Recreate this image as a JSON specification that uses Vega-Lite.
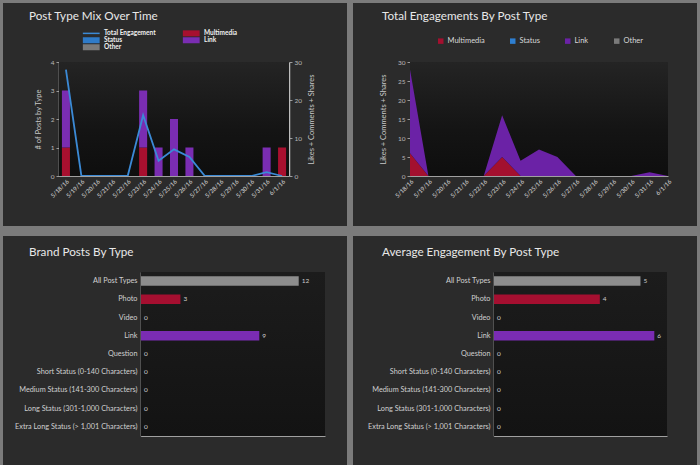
{
  "$schema": "https://vega.github.io/schema/vega-lite/v6.json",
  "background": "#2b2b2b",
  "padding": 0,
  "datasets": {
    "posts": [
      {"date": "5/18/16", "type": "Multimedia", "count": 1},
      {"date": "5/18/16", "type": "Link", "count": 2},
      {"date": "5/23/16", "type": "Multimedia", "count": 1},
      {"date": "5/23/16", "type": "Link", "count": 2},
      {"date": "5/24/16", "type": "Link", "count": 1},
      {"date": "5/25/16", "type": "Link", "count": 2},
      {"date": "5/26/16", "type": "Link", "count": 1},
      {"date": "5/31/16", "type": "Link", "count": 1},
      {"date": "6/1/16", "type": "Multimedia", "count": 1}
    ],
    "eng": [
      {"date": "5/18/16", "type": "Multimedia", "value": 6},
      {"date": "5/18/16", "type": "Link", "value": 22},
      {"date": "5/19/16", "type": "Multimedia", "value": 0},
      {"date": "5/19/16", "type": "Link", "value": 0},
      {"date": "5/20/16", "type": "Multimedia", "value": 0},
      {"date": "5/20/16", "type": "Link", "value": 0},
      {"date": "5/21/16", "type": "Multimedia", "value": 0},
      {"date": "5/21/16", "type": "Link", "value": 0},
      {"date": "5/22/16", "type": "Multimedia", "value": 0},
      {"date": "5/22/16", "type": "Link", "value": 0},
      {"date": "5/23/16", "type": "Multimedia", "value": 5},
      {"date": "5/23/16", "type": "Link", "value": 11},
      {"date": "5/24/16", "type": "Multimedia", "value": 0},
      {"date": "5/24/16", "type": "Link", "value": 4},
      {"date": "5/25/16", "type": "Multimedia", "value": 0},
      {"date": "5/25/16", "type": "Link", "value": 7},
      {"date": "5/26/16", "type": "Multimedia", "value": 0},
      {"date": "5/26/16", "type": "Link", "value": 5},
      {"date": "5/27/16", "type": "Multimedia", "value": 0},
      {"date": "5/27/16", "type": "Link", "value": 0},
      {"date": "5/28/16", "type": "Multimedia", "value": 0},
      {"date": "5/28/16", "type": "Link", "value": 0},
      {"date": "5/29/16", "type": "Multimedia", "value": 0},
      {"date": "5/29/16", "type": "Link", "value": 0},
      {"date": "5/30/16", "type": "Multimedia", "value": 0},
      {"date": "5/30/16", "type": "Link", "value": 0},
      {"date": "5/31/16", "type": "Multimedia", "value": 0},
      {"date": "5/31/16", "type": "Link", "value": 1},
      {"date": "6/1/16", "type": "Multimedia", "value": 0},
      {"date": "6/1/16", "type": "Link", "value": 0}
    ],
    "brand": [
      {"type": "All Post Types", "posts": 12},
      {"type": "Photo", "posts": 3},
      {"type": "Video", "posts": 0},
      {"type": "Link", "posts": 9},
      {"type": "Question", "posts": 0},
      {"type": "Short Status (0-140 Characters)", "posts": 0},
      {"type": "Medium Status (141-300 Characters)", "posts": 0},
      {"type": "Long Status (301-1,000 Characters)", "posts": 0},
      {"type": "Extra Long Status (> 1,001 Characters)", "posts": 0}
    ],
    "avg": [
      {"type": "All Post Types", "avg": 5.08},
      {"type": "Photo", "avg": 3.67},
      {"type": "Video", "avg": 0},
      {"type": "Link", "avg": 5.56},
      {"type": "Question", "avg": 0},
      {"type": "Short Status (0-140 Characters)", "avg": 0},
      {"type": "Medium Status (141-300 Characters)", "avg": 0},
      {"type": "Long Status (301-1,000 Characters)", "avg": 0},
      {"type": "Extra Long Status (> 1,001 Characters)", "avg": 0}
    ]
  },
  "spacing": 0,
  "resolve": {"scale": {"color": "independent"}, "legend": {"color": "independent"}},
  "hconcat": [
    {"width": 3, "height": 465, "view": {"fill": "#7b7b7b"}, "data": {"values": []}, "mark": "rect"},
    {
      "spacing": 0,
      "resolve": {"scale": {"color": "independent"}, "legend": {"color": "independent"}},
      "vconcat": [
        {"width": 344, "height": 3, "view": {"fill": "#7b7b7b"}, "data": {"values": []}, "mark": "rect"},
        {"width": 344, "height": 8, "data": {"values": []}, "mark": "rect"},
        {
          "spacing": 0,
          "bounds": "flush",
          "hconcat": [
            {"width": 56, "height": 164, "data": {"values": []}, "mark": "rect"},
            {
              "width": 230,
              "height": 114,
              "view": {"fill": "#161616"},
              "title": {"text": "Post Type Mix Over Time", "dx": -30, "offset": 36},
              "layer": [
                {
                  "data": {"values": [{}]},
                  "mark": {"type": "rect", "fill": {"gradient": "linear", "x1": 0, "y1": 0, "x2": 0, "y2": 1, "stops": [{"offset": 0, "color": "#242424"}, {"offset": 0.6, "color": "#141414"}, {"offset": 1, "color": "#0e0e0e"}]}}
                },
                {
                  "data": {"name": "posts"},
                  "mark": {"type": "bar"},
                  "encoding": {
                    "x": {"field": "date", "type": "ordinal", "scale": {"paddingInner": 0.48, "paddingOuter": 0.19},
                      "axis": {"title": null, "labelAngle": -45, "labelFontSize": 6, "labelFontWeight": "bold", "ticks": false, "labelPadding": 2, "domainColor": "#a0a0a0", "zindex": 1}},
                    "y": {"field": "count", "type": "quantitative", "stack": "zero", "scale": {"domain": [0, 4]},
                      "axis": {"title": "# of Posts by Type", "values": [0, 1, 2, 3, 4], "tickSize": 3, "labelFontSize": 6.5, "titleFontSize": 7.5, "titlePadding": 8, "domainColor": "#bdbdbd", "domainWidth": 1.5}},
                    "color": {"field": "type", "type": "nominal",
                      "scale": {"domain": ["Total Engagement", "Status", "Other", "Multimedia", "Link"], "range": ["#3b8ad6", "#2f7bc8", "#7a7a7a", "#a8102f", "#7a2db2"]},
                      "legend": {"orient": "none", "legendX": 85, "legendY": -32, "columns": 2, "columnPadding": 26, "rowPadding": 0, "symbolSize": 36,
                        "symbolType": "M-2.8,-1L2.8,-1L2.8,1L-2.8,1Z", "labelOffset": 9.5, "labelFontSize": 6.5, "labelFontWeight": "bold", "labelColor": "#f0f0f0",
                        "title": null, "padding": 0, "symbolStrokeWidth": 0,
                        "encode": {"symbols": {"update": {"shape": {"signal": "datum.value === 'Total Engagement' ? 'M-2.8,-0.25L2.8,-0.25L2.8,0.25L-2.8,0.25Z' : 'M-2.8,-1L2.8,-1L2.8,1L-2.8,1Z'"}}}}}},
                    "order": {"field": "type", "sort": "descending"}
                  }
                },
                {
                  "data": {"name": "eng"},
                  "mark": {"type": "line", "strokeWidth": 1.8},
                  "encoding": {
                    "x": {"field": "date", "type": "ordinal"},
                    "y": {"aggregate": "sum", "field": "value", "type": "quantitative", "scale": {"domain": [0, 30]},
                      "axis": {"orient": "right", "title": "Likes + Comments + Shares", "values": [0, 10, 20, 30], "tickSize": 3, "labelFontSize": 6.5, "titleFontSize": 7.5, "titlePadding": 14, "titleAngle": 270, "domainColor": "#bdbdbd", "domainWidth": 1.5}},
                    "color": {"datum": "Total Engagement"}
                  }
                }
              ],
              "resolve": {"scale": {"y": "independent"}}
            },
            {"width": 58, "height": 164, "data": {"values": []}, "mark": "rect"}
          ]
        },
        {"width": 344, "height": 10, "view": {"fill": "#7b7b7b"}, "data": {"values": []}, "mark": "rect"},
        {"width": 344, "height": 10, "data": {"values": []}, "mark": "rect"},
        {
          "spacing": 0,
          "bounds": "flush",
          "hconcat": [
            {"width": 138, "height": 194, "data": {"values": []}, "mark": "rect"},
            {
              "width": 184,
              "height": 164,
              "view": {"fill": "#161616"},
              "title": {"text": "Brand Posts By Type", "dx": -112, "offset": 13.5},
              "layer": [
                {
                  "data": {"values": [{}]},
                  "mark": {"type": "rect", "fill": {"gradient": "linear", "x1": 0, "y1": 0, "x2": 0, "y2": 1, "stops": [{"offset": 0, "color": "#1c1c1c"}, {"offset": 1, "color": "#131313"}]}}
                },
                {
                  "data": {"name": "brand"},
                  "mark": {"type": "bar"},
                  "encoding": {
                    "y": {"field": "type", "type": "nominal", "sort": ["All Post Types", "Photo", "Video", "Link", "Question", "Short Status (0-140 Characters)", "Medium Status (141-300 Characters)", "Long Status (301-1,000 Characters)", "Extra Long Status (> 1,001 Characters)"],
                      "scale": {"paddingInner": 0.485, "paddingOuter": 0.236},
                      "axis": {"title": null, "ticks": false, "labelPadding": 4, "labelFontSize": 7.3, "labelColor": "#d0d0d0", "domainColor": "#c0c0c0", "domainWidth": 1.5}},
                    "x": {"field": "posts", "type": "quantitative", "scale": {"domain": [0, 14]},
                      "axis": {"title": null, "labels": false, "ticks": false, "domainColor": "#a0a0a0"}},
                    "color": {"field": "type", "type": "nominal", "scale": {"domain": ["All Post Types", "Photo", "Video", "Link", "Question", "Short Status (0-140 Characters)", "Medium Status (141-300 Characters)", "Long Status (301-1,000 Characters)", "Extra Long Status (> 1,001 Characters)"], "range": ["#8d8d8d", "#a50f30", "#8d8d8d", "#7a2cb3", "#8d8d8d", "#8d8d8d", "#8d8d8d", "#8d8d8d", "#8d8d8d"]}, "legend": null}
                  }
                },
                {
                  "data": {"name": "brand"},
                  "mark": {"type": "text", "align": "left", "dx": 3, "fontSize": 6.5, "color": "#cccccc"},
                  "encoding": {
                    "y": {"field": "type", "type": "nominal", "sort": ["All Post Types", "Photo", "Video", "Link", "Question", "Short Status (0-140 Characters)", "Medium Status (141-300 Characters)", "Long Status (301-1,000 Characters)", "Extra Long Status (> 1,001 Characters)"]},
                    "x": {"field": "posts", "type": "quantitative"},
                    "text": {"field": "posts", "type": "quantitative", "format": ".0f"}
                  }
                }
              ]
            },
            {"width": 22, "height": 194, "data": {"values": []}, "mark": "rect"}
          ]
        }
      ]
    },
    {"width": 6, "height": 465, "view": {"fill": "#7b7b7b"}, "data": {"values": []}, "mark": "rect"},
    {
      "spacing": 0,
      "resolve": {"scale": {"color": "independent"}, "legend": {"color": "independent"}},
      "vconcat": [
        {"width": 344, "height": 3, "view": {"fill": "#7b7b7b"}, "data": {"values": []}, "mark": "rect"},
        {"width": 344, "height": 8, "data": {"values": []}, "mark": "rect"},
        {
          "spacing": 0,
          "bounds": "flush",
          "hconcat": [
            {"width": 57, "height": 164, "data": {"values": []}, "mark": "rect"},
            {
              "width": 258,
              "height": 114,
              "view": {"fill": "#161616"},
              "title": {"text": "Total Engagements By Post Type", "dx": -28, "offset": 36},
              "layer": [
                {
                  "data": {"values": [{}]},
                  "mark": {"type": "rect", "fill": {"gradient": "linear", "x1": 0, "y1": 0, "x2": 0, "y2": 1, "stops": [{"offset": 0, "color": "#242424"}, {"offset": 0.6, "color": "#141414"}, {"offset": 1, "color": "#0e0e0e"}]}}
                },
                {
                  "data": {"name": "eng"},
                  "mark": {"type": "area"},
                  "encoding": {
                    "x": {"field": "date", "type": "ordinal", "scale": {"padding": 0},
                      "axis": {"title": null, "labelAngle": -45, "labelFontSize": 6, "labelFontWeight": "bold", "ticks": false, "labelPadding": 2, "domainColor": "#a0a0a0", "zindex": 1}},
                    "y": {"field": "value", "type": "quantitative", "stack": "zero", "scale": {"domain": [0, 30]},
                      "axis": {"title": "Likes + Comments + Shares", "values": [0, 5, 10, 15, 20, 25, 30], "tickSize": 3, "labelFontSize": 6.5, "titleFontSize": 7.5, "titlePadding": 10, "domainColor": "#bdbdbd"}},
                    "color": {"field": "type", "type": "nominal",
                      "scale": {"domain": ["Multimedia", "Status", "Link", "Other"], "range": ["#a3102f", "#2e7fd1", "#6b22a6", "#7a7a7a"]},
                      "legend": {"orient": "none", "legendX": 84, "legendY": -25, "direction": "horizontal", "title": null, "symbolType": "square", "symbolSize": 30,
                        "labelFontSize": 7.5, "labelColor": "#d8d8d8", "labelOffset": 3, "columnPadding": 24, "padding": 0, "symbolStrokeWidth": 0}},
                    "order": {"field": "type", "sort": "descending"}
                  }
                }
              ]
            },
            {"width": 29, "height": 164, "data": {"values": []}, "mark": "rect"}
          ]
        },
        {"width": 344, "height": 10, "view": {"fill": "#7b7b7b"}, "data": {"values": []}, "mark": "rect"},
        {"width": 344, "height": 10, "data": {"values": []}, "mark": "rect"},
        {
          "spacing": 0,
          "bounds": "flush",
          "hconcat": [
            {"width": 141, "height": 194, "data": {"values": []}, "mark": "rect"},
            {
              "width": 173,
              "height": 164,
              "view": {"fill": "#161616"},
              "title": {"text": "Average Engagement By Post Type", "dx": -112, "offset": 13.5},
              "layer": [
                {
                  "data": {"values": [{}]},
                  "mark": {"type": "rect", "fill": {"gradient": "linear", "x1": 0, "y1": 0, "x2": 0, "y2": 1, "stops": [{"offset": 0, "color": "#1c1c1c"}, {"offset": 1, "color": "#131313"}]}}
                },
                {
                  "data": {"name": "avg"},
                  "mark": {"type": "bar"},
                  "encoding": {
                    "y": {"field": "type", "type": "nominal", "sort": ["All Post Types", "Photo", "Video", "Link", "Question", "Short Status (0-140 Characters)", "Medium Status (141-300 Characters)", "Long Status (301-1,000 Characters)", "Extra Long Status (> 1,001 Characters)"],
                      "scale": {"paddingInner": 0.485, "paddingOuter": 0.236},
                      "axis": {"title": null, "ticks": false, "labelPadding": 4, "labelFontSize": 7.3, "labelColor": "#d0d0d0", "domainColor": "#c0c0c0", "domainWidth": 1.5}},
                    "x": {"field": "avg", "type": "quantitative", "scale": {"domain": [0, 6]},
                      "axis": {"title": null, "labels": false, "ticks": false, "domainColor": "#a0a0a0"}},
                    "color": {"field": "type", "type": "nominal", "scale": {"domain": ["All Post Types", "Photo", "Video", "Link", "Question", "Short Status (0-140 Characters)", "Medium Status (141-300 Characters)", "Long Status (301-1,000 Characters)", "Extra Long Status (> 1,001 Characters)"], "range": ["#8d8d8d", "#a50f30", "#8d8d8d", "#7a2cb3", "#8d8d8d", "#8d8d8d", "#8d8d8d", "#8d8d8d", "#8d8d8d"]}, "legend": null}
                  }
                },
                {
                  "data": {"name": "avg"},
                  "mark": {"type": "text", "align": "left", "dx": 3, "fontSize": 6.5, "color": "#cccccc"},
                  "encoding": {
                    "y": {"field": "type", "type": "nominal", "sort": ["All Post Types", "Photo", "Video", "Link", "Question", "Short Status (0-140 Characters)", "Medium Status (141-300 Characters)", "Long Status (301-1,000 Characters)", "Extra Long Status (> 1,001 Characters)"]},
                    "x": {"field": "avg", "type": "quantitative"},
                    "text": {"field": "avg", "type": "quantitative", "format": ".0f"}
                  }
                }
              ]
            },
            {"width": 30, "height": 194, "data": {"values": []}, "mark": "rect"}
          ]
        }
      ]
    },
    {"width": 3, "height": 465, "view": {"fill": "#7b7b7b"}, "data": {"values": []}, "mark": "rect"}
  ],
  "config": {
    "view": {"stroke": null},
    "font": "Lato",
    "axis": {"labelFont": "Lato", "titleFont": "Lato", "domainColor": "#9a9a9a", "tickColor": "#9a9a9a", "labelColor": "#b8b8b8", "titleColor": "#c8c8c8", "titleFontWeight": "normal", "grid": false},
    "legend": {"labelFont": "Lato"},
    "title": {"font": "Lato", "fontSize": 11.7, "fontWeight": "normal", "color": "#e8e8e8", "anchor": "start", "frame": "group"}
  }
}
